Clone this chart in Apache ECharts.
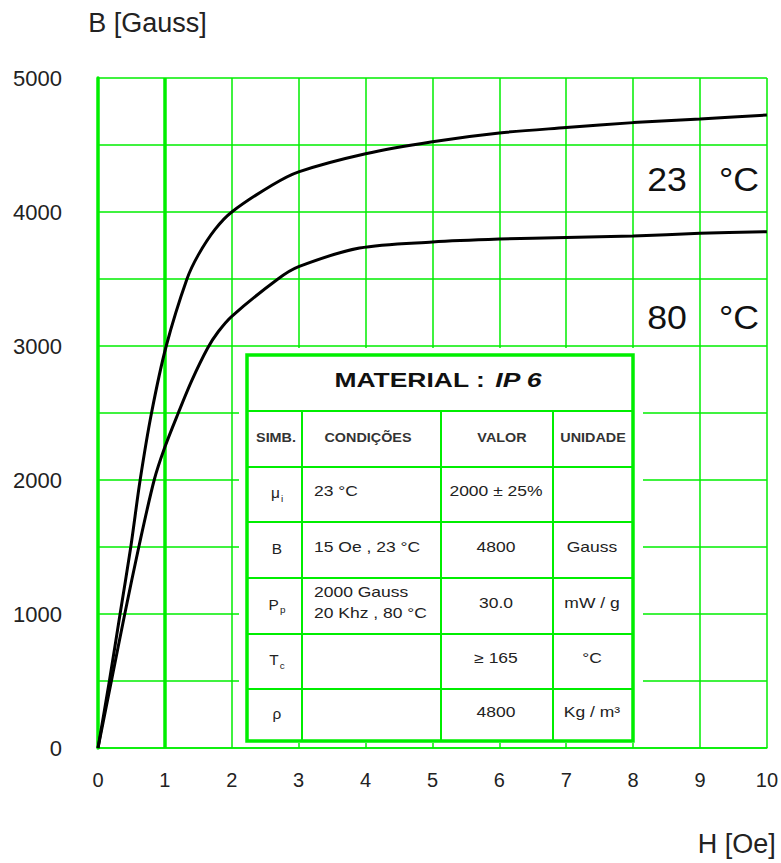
<!DOCTYPE html>
<html>
<head>
<meta charset="utf-8">
<title>B x H - IP 6</title>
<script src="https://cdn.jsdelivr.net/npm/echarts/dist/echarts.min.js"></script>
<style>
  html, body { margin: 0; padding: 0; background: #fff; }
  #chart { width: 781px; height: 863px; }
</style>
</head>
<body>
<div id="chart"></div>
<script>
// curva 23 °C  (H em Oe, B em Gauss)
const h23 = [0, 0.17, 0.33, 0.49, 0.63, 0.8, 1.02, 1.33, 1.5, 1.75, 2, 2.6, 3, 4, 5, 6, 7, 8, 9, 10]
const b23 = [0, 500, 1000, 1500, 2000, 2500, 3000, 3500, 3680, 3870, 4000, 4200, 4300, 4435, 4525, 4590, 4630, 4667, 4694, 4724]
// curva 80 °C
const h80 = [0, 0.2, 0.4, 0.61, 0.84, 1.0, 1.2, 1.4, 1.64, 1.8, 2, 2.69, 3, 3.91, 5, 6, 7, 8, 9, 10]
const b80 = [0, 500, 1000, 1500, 2000, 2246, 2500, 2740, 2985, 3108, 3222, 3500, 3592, 3731, 3776, 3798, 3810, 3821, 3841, 3853]

const seriesNames = ['23 °C', '80 °C']

// tabela do material
const tableTitle = ['MATERIAL :', 'IP 6']
const tableHead = ['SIMB.', 'CONDIÇÕES', 'VALOR', 'UNIDADE']
const tableSymbols = ['μ{s|i}', 'B', 'P{s|p}', 'T{s|c}', 'ρ']
const tableConds = ['23 °C', '15 Oe , 23 °C', '2000 Gauss\n20 Khz , 80 °C', '', '']
const tableValues = ['2000 ± 25%', '4800', '30.0', '≥ 165', '4800']
const tableUnits = ['', 'Gauss', 'mW / g', '°C', 'Kg / m³']

const FONT = '"Liberation Sans", Arial, sans-serif'
const GREEN = '#00ee00'
const TXT = '#222'

function pairs(xs, ys) {
  return xs.map((x, i) => [x, ys[i]])
}

// layout da tabela (pixels)
const colX = [247, 302, 441, 553, 633]
const rowY = [355, 411, 467, 522, 578, 634, 689, 741]

function txt(x, y, text, opt) {
  opt = opt || {}
  return {
    type: 'text',
    x: x,
    y: y,
    z: 60,
    scaleX: opt.scaleX || 1.25,
    silent: true,
    style: {
      text: text,
      fill: opt.color || TXT,
      fontSize: opt.fontSize || 14,
      fontWeight: opt.fontWeight || 'normal',
      fontFamily: FONT,
      align: opt.align || 'center',
      verticalAlign: 'middle',
      lineHeight: opt.lineHeight || 21,
      rich: opt.rich
    }
  }
}

function buildTable() {
  const els = []
  // fundo branco que cobre a grade
  els.push({
    type: 'rect', z: 50, silent: true,
    shape: { x: 239, y: 348, width: 404, height: 395 },
    style: { fill: '#fff' }
  })
  // linhas internas
  for (let i = 1; i < rowY.length - 1; i++) {
    els.push({
      type: 'line', z: 55, silent: true,
      shape: { x1: colX[0], y1: rowY[i], x2: colX[colX.length - 1], y2: rowY[i] },
      style: { stroke: GREEN, lineWidth: 2 }
    })
  }
  for (let j = 1; j < colX.length - 1; j++) {
    els.push({
      type: 'line', z: 55, silent: true,
      shape: { x1: colX[j], y1: rowY[1], x2: colX[j], y2: rowY[rowY.length - 1] },
      style: { stroke: GREEN, lineWidth: 2 }
    })
  }
  // borda
  els.push({
    type: 'rect', z: 56, silent: true,
    shape: { x: colX[0], y: rowY[0], width: colX[4] - colX[0], height: rowY[7] - rowY[0] },
    style: { fill: 'none', stroke: GREEN, lineWidth: 3.5 }
  })

  // titulo
  els.push(txt(438, 380, '{a|' + tableTitle[0] + '}  {b|' + tableTitle[1] + '}', {
    scaleX: 1.26,
    rich: {
      a: { fontSize: 21, fontWeight: 'bold', fontFamily: FONT, fill: '#111' },
      b: { fontSize: 21, fontWeight: 'bold', fontStyle: 'italic', fontFamily: FONT, fill: '#111' }
    }
  }))

  // cabecalho
  const headX = [276, 368, 502, 593]
  tableHead.forEach((t, j) => {
    els.push(txt(headX[j], 438, t, { fontSize: 12.5, fontWeight: 'bold', scaleX: 1.15, color: '#333' }))
  })

  // linhas de dados
  const subRich = { s: { fontSize: 9, fontFamily: FONT, fill: TXT, padding: [10, 0, 0, 1] } }
  for (let i = 0; i < tableSymbols.length; i++) {
    const cy = (rowY[i + 2] + rowY[i + 3]) / 2 - 3
    els.push(txt(277, cy + 2, tableSymbols[i], { rich: subRich, scaleX: 1.1 }))
    if (tableConds[i]) els.push(txt(314, cy, tableConds[i], { align: 'left' }))
    els.push(txt(496, cy, tableValues[i]))
    if (tableUnits[i]) els.push(txt(592, cy, tableUnits[i]))
  }

  // rotulos das curvas
  const tempY = [179, 317]
  seriesNames.forEach((n, i) => {
    const parts = n.split(' ')
    els.push(txt(667, tempY[i], parts[0], { fontSize: 34, scaleX: 1.05, color: '#111' }))
    els.push(txt(739, tempY[i], parts[1], { fontSize: 34, scaleX: 1.05, color: '#111' }))
  })
  return els
}

const chartEl = document.getElementById('chart')
const myChart = echarts.init(chartEl, null, { renderer: 'svg' })

const option = {
  animation: false,
  backgroundColor: '#fff',
  grid: { left: 98, right: 13, top: 78, bottom: 115, containLabel: false },
  xAxis: {
    type: 'value',
    min: 0,
    max: 10,
    interval: 1,
    name: 'H [Oe]',
    nameLocation: 'end',
    nameGap: 9,
    nameTextStyle: {
      fontSize: 27, color: TXT, fontFamily: FONT,
      align: 'right', verticalAlign: 'top', padding: [82, 0, 0, 0]
    },
    axisLine: { lineStyle: { color: GREEN, width: 1.5 } },
    axisTick: { show: false },
    axisLabel: { fontSize: 20, color: TXT, fontFamily: FONT, margin: 22 },
    splitLine: { lineStyle: { color: GREEN, width: 1.5 } }
  },
  yAxis: {
    type: 'value',
    min: 0,
    max: 5000,
    interval: 500,
    name: 'B [Gauss]',
    nameLocation: 'end',
    nameGap: 42,
    nameTextStyle: {
      fontSize: 27, color: TXT, fontFamily: FONT,
      align: 'center', padding: [0, 0, 0, 99]
    },
    axisLine: { show: true, lineStyle: { color: GREEN, width: 3.5 } },
    axisTick: { show: false },
    axisLabel: {
      fontSize: 22, color: TXT, fontFamily: FONT, margin: 36,
      formatter: (v) => (v % 1000 === 0 ? String(v) : '')
    },
    splitLine: { lineStyle: { color: GREEN, width: 1.5 } }
  },
  series: [
    {
      name: seriesNames[0],
      type: 'line',
      data: pairs(h23, b23),
      smooth: 0.3,
      showSymbol: false,
      lineStyle: { color: '#000', width: 3 },
      // linha grossa em H = 1
      markLine: {
        silent: true,
        symbol: ['none', 'none'],
        label: { show: false },
        lineStyle: { color: GREEN, width: 3.5, type: 'solid' },
        data: [{ xAxis: 1 }]
      },
      z: 5
    },
    {
      name: seriesNames[1],
      type: 'line',
      data: pairs(h80, b80),
      smooth: 0.3,
      showSymbol: false,
      lineStyle: { color: '#000', width: 3 },
      z: 5
    }
  ],
  graphic: buildTable()
}

myChart.setOption(option)
</script>
</body>
</html>
